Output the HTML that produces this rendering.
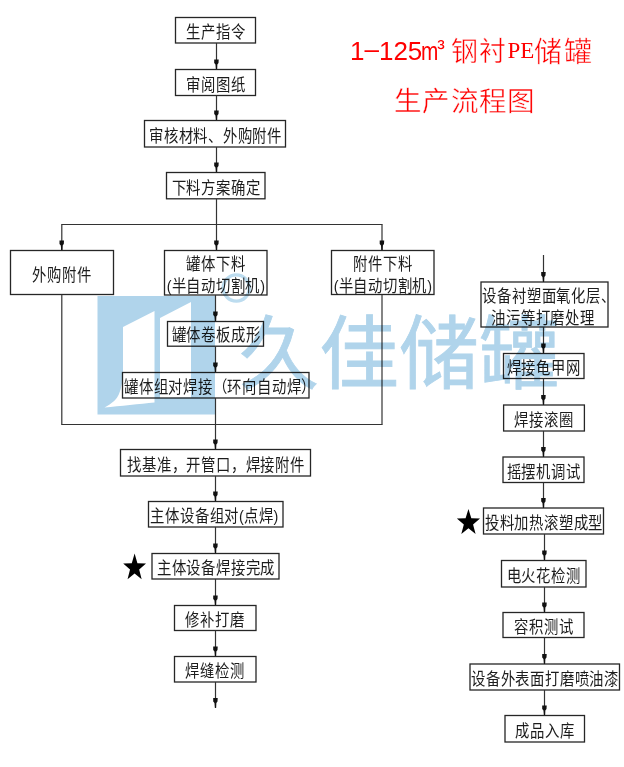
<!DOCTYPE html>
<html lang="zh-CN"><head><meta charset="utf-8"><title>1-125m³ 钢衬PE储罐生产流程图</title>
<style>
html,body{margin:0;padding:0;background:#fff}
body{width:624px;height:767px;position:relative;overflow:hidden;font-family:"Liberation Sans",sans-serif}
#pg{position:absolute;left:0;top:0;width:624px;height:767px;filter:blur(0.35px)}
svg.d{position:absolute;left:0;top:0}
svg.d rect{fill:none;stroke:#262626;stroke-width:1.3}
svg.d line{stroke:#333;stroke-width:1.2}
svg.d .ah{fill:#111}
svg.d .st{fill:#000}
.bt{position:absolute;display:flex;align-items:center;justify-content:center;text-align:center;white-space:nowrap;color:#1c1c1c;font-size:14.6px;line-height:19.7px}
.bt span{display:inline-block;transform:translateY(3.5px) scale(0.985,1.13)}
.bt i{display:block;font-style:normal;position:relative}
.t1{position:absolute;color:#f00;white-space:nowrap;line-height:1}
.cj{-webkit-text-stroke:0.45px #fff}
.wm{position:absolute;left:0;top:0;width:624px;height:767px;mix-blend-mode:multiply;pointer-events:none}
.wmt{position:absolute;left:239px;top:315px;font-size:80px;line-height:1;color:#b0d4eb;white-space:nowrap;font-family:"Liberation Sans",sans-serif;-webkit-text-stroke:0.8px #b0d4eb}
</style></head><body><div id="pg">
<svg class="d" width="624" height="767" viewBox="0 0 624 767">
<rect x="175.5" y="17.5" width="80.0" height="25.5"/>
<rect x="175.5" y="69.5" width="80.0" height="26.0"/>
<rect x="144.5" y="120.5" width="141.0" height="26.5"/>
<rect x="166.5" y="172.5" width="98.5" height="26.3"/>
<rect x="10.5" y="250.5" width="103.0" height="44.0"/>
<rect x="164.5" y="250.5" width="102.5" height="44.5"/>
<rect x="331.5" y="250.5" width="102.5" height="44.0"/>
<rect x="167.5" y="321.5" width="96.0" height="24.7"/>
<rect x="122.5" y="372.5" width="186.5" height="25.5"/>
<rect x="120.5" y="449.5" width="190.0" height="26.5"/>
<rect x="148.5" y="501.5" width="134.5" height="25.5"/>
<rect x="152" y="553.5" width="127" height="25.5"/>
<rect x="174.5" y="605.5" width="81.5" height="25.0"/>
<rect x="174.5" y="656.5" width="81.5" height="25.5"/>
<rect x="481" y="282" width="127" height="45"/>
<rect x="503.5" y="353.5" width="80.5" height="25.0"/>
<rect x="503.6" y="405" width="80.8" height="26"/>
<rect x="503" y="457" width="81" height="25.5"/>
<rect x="483.5" y="508" width="120.0" height="26"/>
<rect x="501.5" y="560.5" width="84.5" height="26.5"/>
<rect x="503" y="612.5" width="81" height="25.0"/>
<rect x="470" y="664" width="149.5" height="26"/>
<rect x="505" y="715.5" width="79.5" height="26.5"/>
<line x1="216.5" y1="43" x2="216.5" y2="69.5"/>
<path class="ah" d="M214.2,59.5 L218.7,59.5 L218.5,63.0 L217.3,64.5 L217.1,69.2 L215.9,69.2 L215.5,64.5 L214.2,63.0 Z"/>
<line x1="216.5" y1="95.5" x2="216.5" y2="120.5"/>
<path class="ah" d="M214.2,110.5 L218.7,110.5 L218.5,114.0 L217.3,115.5 L217.1,120.2 L215.9,120.2 L215.5,115.5 L214.2,114.0 Z"/>
<line x1="216.5" y1="147" x2="216.5" y2="172.5"/>
<path class="ah" d="M214.2,162.5 L218.7,162.5 L218.5,166.0 L217.3,167.5 L217.1,172.2 L215.9,172.2 L215.5,167.5 L214.2,166.0 Z"/>
<line x1="216.5" y1="199" x2="216.5" y2="224.5"/>
<line x1="61.8" y1="224.5" x2="61.8" y2="250.5"/>
<path class="ah" d="M59.5,240.5 L64.0,240.5 L63.8,244.0 L62.599999999999994,245.5 L62.4,250.2 L61.199999999999996,250.2 L60.8,245.5 L59.5,244.0 Z"/>
<line x1="216.5" y1="224.5" x2="216.5" y2="250.5"/>
<path class="ah" d="M214.2,240.5 L218.7,240.5 L218.5,244.0 L217.3,245.5 L217.1,250.2 L215.9,250.2 L215.5,245.5 L214.2,244.0 Z"/>
<line x1="382" y1="224.5" x2="382" y2="250.5"/>
<path class="ah" d="M379.7,240.5 L384.2,240.5 L384,244.0 L382.8,245.5 L382.6,250.2 L381.4,250.2 L381,245.5 L379.7,244.0 Z"/>
<line x1="215.5" y1="295" x2="215.5" y2="321.5"/>
<path class="ah" d="M213.2,311.5 L217.7,311.5 L217.5,315.0 L216.3,316.5 L216.1,321.2 L214.9,321.2 L214.5,316.5 L213.2,315.0 Z"/>
<line x1="215.5" y1="346.2" x2="215.5" y2="372.5"/>
<path class="ah" d="M213.2,362.5 L217.7,362.5 L217.5,366.0 L216.3,367.5 L216.1,372.2 L214.9,372.2 L214.5,367.5 L213.2,366.0 Z"/>
<line x1="215.5" y1="398" x2="215.5" y2="449.5"/>
<path class="ah" d="M213.2,439.5 L217.7,439.5 L217.5,443.0 L216.3,444.5 L216.1,449.2 L214.9,449.2 L214.5,444.5 L213.2,443.0 Z"/>
<line x1="61.8" y1="294.5" x2="61.8" y2="424.5"/>
<line x1="382" y1="294.5" x2="382" y2="424.5"/>
<line x1="215.5" y1="476" x2="215.5" y2="501.5"/>
<path class="ah" d="M213.2,491.5 L217.7,491.5 L217.5,495.0 L216.3,496.5 L216.1,501.2 L214.9,501.2 L214.5,496.5 L213.2,495.0 Z"/>
<line x1="215.5" y1="527" x2="215.5" y2="553.5"/>
<path class="ah" d="M213.2,543.5 L217.7,543.5 L217.5,547.0 L216.3,548.5 L216.1,553.2 L214.9,553.2 L214.5,548.5 L213.2,547.0 Z"/>
<line x1="215.5" y1="579" x2="215.5" y2="605.5"/>
<path class="ah" d="M213.2,595.5 L217.7,595.5 L217.5,599.0 L216.3,600.5 L216.1,605.2 L214.9,605.2 L214.5,600.5 L213.2,599.0 Z"/>
<line x1="215.5" y1="630.5" x2="215.5" y2="656.5"/>
<path class="ah" d="M213.2,646.5 L217.7,646.5 L217.5,650.0 L216.3,651.5 L216.1,656.2 L214.9,656.2 L214.5,651.5 L213.2,650.0 Z"/>
<line x1="215.5" y1="682" x2="215.5" y2="708"/>
<path class="ah" d="M213.2,698 L217.7,698 L217.5,701.5 L216.3,703 L216.1,707.7 L214.9,707.7 L214.5,703 L213.2,701.5 Z"/>
<line x1="543.5" y1="255" x2="543.5" y2="282"/>
<path class="ah" d="M541.2,272 L545.7,272 L545.5,275.5 L544.3,277 L544.1,281.7 L542.9,281.7 L542.5,277 L541.2,275.5 Z"/>
<line x1="543.5" y1="327" x2="543.5" y2="353.5"/>
<path class="ah" d="M541.2,343.5 L545.7,343.5 L545.5,347.0 L544.3,348.5 L544.1,353.2 L542.9,353.2 L542.5,348.5 L541.2,347.0 Z"/>
<line x1="543.5" y1="378.5" x2="543.5" y2="405"/>
<path class="ah" d="M541.2,395 L545.7,395 L545.5,398.5 L544.3,400 L544.1,404.7 L542.9,404.7 L542.5,400 L541.2,398.5 Z"/>
<line x1="543.5" y1="431" x2="543.5" y2="457"/>
<path class="ah" d="M541.2,447 L545.7,447 L545.5,450.5 L544.3,452 L544.1,456.7 L542.9,456.7 L542.5,452 L541.2,450.5 Z"/>
<line x1="543.5" y1="482.5" x2="543.5" y2="508"/>
<path class="ah" d="M541.2,498 L545.7,498 L545.5,501.5 L544.3,503 L544.1,507.7 L542.9,507.7 L542.5,503 L541.2,501.5 Z"/>
<line x1="544.5" y1="534" x2="544.5" y2="560.5"/>
<path class="ah" d="M542.2,550.5 L546.7,550.5 L546.5,554.0 L545.3,555.5 L545.1,560.2 L543.9,560.2 L543.5,555.5 L542.2,554.0 Z"/>
<line x1="544.5" y1="587" x2="544.5" y2="612.5"/>
<path class="ah" d="M542.2,602.5 L546.7,602.5 L546.5,606.0 L545.3,607.5 L545.1,612.2 L543.9,612.2 L543.5,607.5 L542.2,606.0 Z"/>
<line x1="544.5" y1="637.5" x2="544.5" y2="664"/>
<path class="ah" d="M542.2,654 L546.7,654 L546.5,657.5 L545.3,659 L545.1,663.7 L543.9,663.7 L543.5,659 L542.2,657.5 Z"/>
<line x1="544.5" y1="690" x2="544.5" y2="715.5"/>
<path class="ah" d="M542.2,705.5 L546.7,705.5 L546.5,709.0 L545.3,710.5 L545.1,715.2 L543.9,715.2 L543.5,710.5 L542.2,709.0 Z"/>
<line x1="61.25" y1="224.5" x2="382.55" y2="224.5"/>
<line x1="61.25" y1="424.5" x2="382.55" y2="424.5"/>
<polygon class="st" points="134.60,553.52 137.42,563.18 146.01,563.39 139.17,569.57 141.65,579.35 134.60,573.51 127.55,579.35 130.03,569.57 123.19,563.39 131.78,563.18"/>
<polygon class="st" points="468.45,508.95 471.31,518.32 480.01,518.52 473.07,524.51 475.59,534.01 468.45,528.34 461.31,534.01 463.83,524.51 456.89,518.52 465.59,518.32"/>
</svg>
<div class="bt" style="left:175.5px;top:17.5px;width:80.0px;height:25.5px"><span><i>生产指令</i></span></div>
<div class="bt" style="left:175.5px;top:69.5px;width:80.0px;height:26.0px"><span><i>审阅图纸</i></span></div>
<div class="bt" style="left:144.5px;top:120.5px;width:141.0px;height:26.5px"><span><i>审核材料、外购附件</i></span></div>
<div class="bt" style="left:166.5px;top:172.5px;width:98.5px;height:26.3px"><span><i>下料方案确定</i></span></div>
<div class="bt" style="left:10.5px;top:250.5px;width:103.0px;height:44.0px"><span><i>外购附件</i></span></div>
<div class="bt" style="left:164.5px;top:250.5px;width:102.5px;height:44.5px"><span><i>罐体下料</i><i>(半自动切割机)</i></span></div>
<div class="bt" style="left:331.5px;top:250.5px;width:102.5px;height:44.0px"><span><i>附件下料</i><i>(半自动切割机)</i></span></div>
<div class="bt" style="left:167.5px;top:321.5px;width:96.0px;height:24.7px"><span style="transform:translate(0px,2.3px) scale(0.985,1.13)"><i>罐体卷板成形</i></span></div>
<div class="bt" style="left:122.5px;top:372.5px;width:186.5px;height:25.5px"><span style="transform:translate(4.6px,3.5px) scale(0.985,1.13)"><i>罐体组对焊接（环向自动焊）</i></span></div>
<div class="bt" style="left:120.5px;top:449.5px;width:190.0px;height:26.5px"><span><i>找基准，开管口，焊接附件</i></span></div>
<div class="bt" style="left:148.5px;top:501.5px;width:134.5px;height:25.5px"><span style="transform:translate(-1.5px,3.5px) scale(0.985,1.13)"><i>主体设备组对(点焊)</i></span></div>
<div class="bt" style="left:152px;top:553.5px;width:127px;height:25.5px"><span><i>主体设备焊接完成</i></span></div>
<div class="bt" style="left:174.5px;top:605.5px;width:81.5px;height:25.0px"><span><i>修补打磨</i></span></div>
<div class="bt" style="left:174.5px;top:656.5px;width:81.5px;height:25.5px"><span><i>焊缝检测</i></span></div>
<div class="bt" style="left:481px;top:282px;width:127px;height:45px"><span><i style="left:4.5px">设备衬塑面氧化层、</i><i style="left:-1.5px">油污等打磨处理</i></span></div>
<div class="bt" style="left:503.5px;top:353.5px;width:80.5px;height:25.0px"><span><i>焊接龟甲网</i></span></div>
<div class="bt" style="left:503.6px;top:405px;width:80.8px;height:26px"><span><i>焊接滚圈</i></span></div>
<div class="bt" style="left:503px;top:457px;width:81px;height:25.5px"><span><i>摇摆机调试</i></span></div>
<div class="bt" style="left:483.5px;top:508px;width:120.0px;height:26px"><span><i>投料加热滚塑成型</i></span></div>
<div class="bt" style="left:501.5px;top:560.5px;width:84.5px;height:26.5px"><span><i>电火花检测</i></span></div>
<div class="bt" style="left:503px;top:612.5px;width:81px;height:25.0px"><span><i>容积测试</i></span></div>
<div class="bt" style="left:470px;top:664px;width:149.5px;height:26px"><span><i>设备外表面打磨喷油漆</i></span></div>
<div class="bt" style="left:505px;top:715.5px;width:79.5px;height:26.5px"><span><i>成品入库</i></span></div>
<div class="t1" style="left:350px;top:38px;font-size:26px">1<span style="position:relative;top:-2.4px">–</span>125</div>
<div class="t1" style="left:421px;top:38px;font-size:26px;transform-origin:0 0;transform:scaleX(0.8)">m</div>
<div class="t1" style="left:437.3px;top:37px;font-size:22.5px">³</div>
<div class="t1 cj" style="left:451px;top:38.5px;font-size:27px;letter-spacing:0.5px">钢衬</div>
<div class="t1" style="left:507.5px;top:39px;font-size:23px;font-family:'Liberation Serif',serif">PE</div>
<div class="t1 cj" style="left:534px;top:38.5px;font-size:28px;letter-spacing:2px">储罐</div>
<div class="t1 cj" style="left:394px;top:88px;font-size:27.5px;letter-spacing:1.25px">生产流程图</div>
<div class="wm">
<svg width="624" height="767" viewBox="0 0 624 767" style="position:absolute;left:0;top:0">
<rect x="97.5" y="296" width="117.5" height="118.5" fill="#b0d4eb"/>
<path d="M123,327 L154.5,311 L154.5,402.5 C140,404 120,406 104.5,407.5 C112,403.5 117,399 119,394 C121.5,388 123,380 123,370 Z" fill="#fff"/>
<path d="M160,318 L191,302 L191,397.5 L160,398 Z" fill="#fff"/>
<circle cx="236.3" cy="288" r="13.1" fill="none" stroke="#bcdcef" stroke-width="3.4" style="filter:blur(0.5px)"/>
</svg>
<div class="wmt">久佳储罐</div>
</div>
</div></body></html>
